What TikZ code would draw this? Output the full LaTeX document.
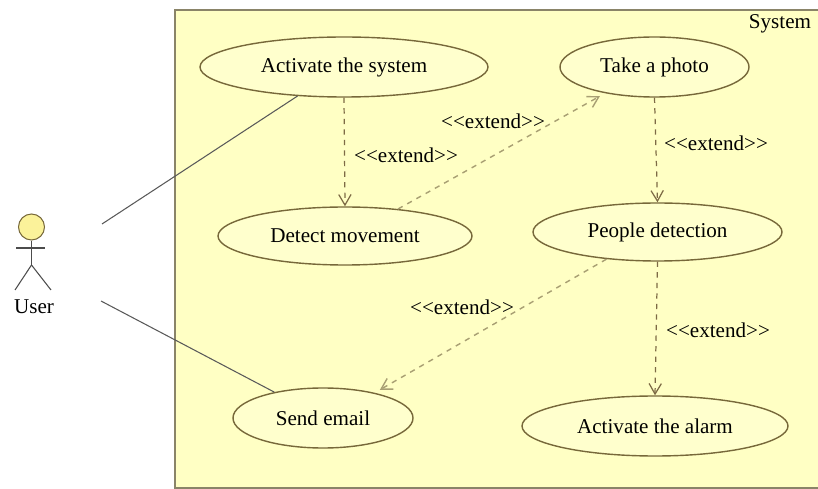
\documentclass[tikz,border=0pt]{standalone}
\usepackage{fontspec}
\setmainfont{Liberation Serif}
\usepackage{tikz}
\usetikzlibrary{arrows.meta,shapes.geometric}
\definecolor{sysfill}{HTML}{FFFFC4}
\definecolor{sysline}{HTML}{8A8468}
\definecolor{caseline}{HTML}{77683A}
\definecolor{extline}{HTML}{7D6A45}
\definecolor{extfaint}{HTML}{A89F73}
\definecolor{headfill}{HTML}{FBF29A}
\newcommand{\extendtext}{{<}{<}extend{>}{>}}
\tikzset{
  usecase/.style={draw=caseline, line width=0.8pt, ellipse, fill=sysfill!85!white, inner sep=0pt, font=\fontsize{12}{14}\selectfont},
  extendlabel/.style={font=\fontsize{12}{14}\selectfont, inner sep=0pt},
  extendarrow/.style={draw=extline, line width=0.7pt, dashed, -{Straight Barb[length=6pt,width=7pt]}},
  extendfaint/.style={extendarrow, draw=extfaint, line width=0.8pt, shorten >=0.02cm*6},
  assoc/.style={draw=black!65, line width=0.6pt},
  stick/.style={draw=black!70, line width=0.6pt}
}

\begin{document}
\begin{tikzpicture}[x=0.02cm,y=-0.02cm]
\useasboundingbox (0,0) rectangle (818,489);
\node[draw=sysline, line width=1.1pt, fill=sysfill, anchor=north west, inner sep=0pt, minimum width=0.02cm*660, minimum height=0.02cm*478] (system) at (174,9) {};
\node[extendlabel] (systemlabel) at (780,24) {System};
%use cases
\node[usecase, minimum width=0.02cm*288, minimum height=0.02cm*60] (activate) at (344,67) {Activate the system};
\node[usecase, minimum width=0.02cm*189, minimum height=0.02cm*60] (photo) at (654.5,67) {Take a photo};
\node[usecase, minimum width=0.02cm*254, minimum height=0.02cm*58] (detect) at (345,236) {Detect movement};
\node[usecase, minimum width=0.02cm*249, minimum height=0.02cm*58] (people) at (657.5,232) {People detection};
\node[usecase, minimum width=0.02cm*180, minimum height=0.02cm*60] (email) at (323,418) {Send email};
\node[usecase, minimum width=0.02cm*266, minimum height=0.02cm*60] (alarm) at (655,426) {Activate the alarm};
%extend
\draw[extendarrow] (activate.south) -- (detect.north);
\draw[extendfaint] (detect.27) -- (photo.208);
\draw[extendarrow] (photo.south) -- (people.north);
\draw[extendfaint] (people.208) -- (email.26);
\draw[extendarrow] (people.south) -- (alarm.north);
\node[extendlabel] (extend1) at (406,155) {\extendtext};
\node[extendlabel] (extend2) at (493,121) {\extendtext};
\node[extendlabel] (extend3) at (716,143) {\extendtext};
\node[extendlabel] (extend4) at (462,307) {\extendtext};
\node[extendlabel] (extend5) at (718,330) {\extendtext};
%actor
\node[circle, draw=caseline, line width=0.6pt, fill=headfill, inner sep=0pt, minimum size=0.02cm*26] (head) at (31.5,227) {};
\coordinate (hip) at (31.5,265);
\coordinate (armleft) at (16,248);
\coordinate (armright) at (45,248);
\coordinate (footleft) at (15,290);
\coordinate (footright) at (51,290);
\draw[stick] (head.south) -- (hip);
\draw[stick] (armleft) -- (armright);
\draw[stick] (footleft) -- (hip) -- (footright);
\node[extendlabel] (user) at (34,307) {User};
%association
\coordinate (userup) at (102,224);
\coordinate (userdown) at (101,301);
\draw[assoc] (userup) -- (activate.212);
\draw[assoc] (userdown) -- (email.152);
\end{tikzpicture}
\end{document}
